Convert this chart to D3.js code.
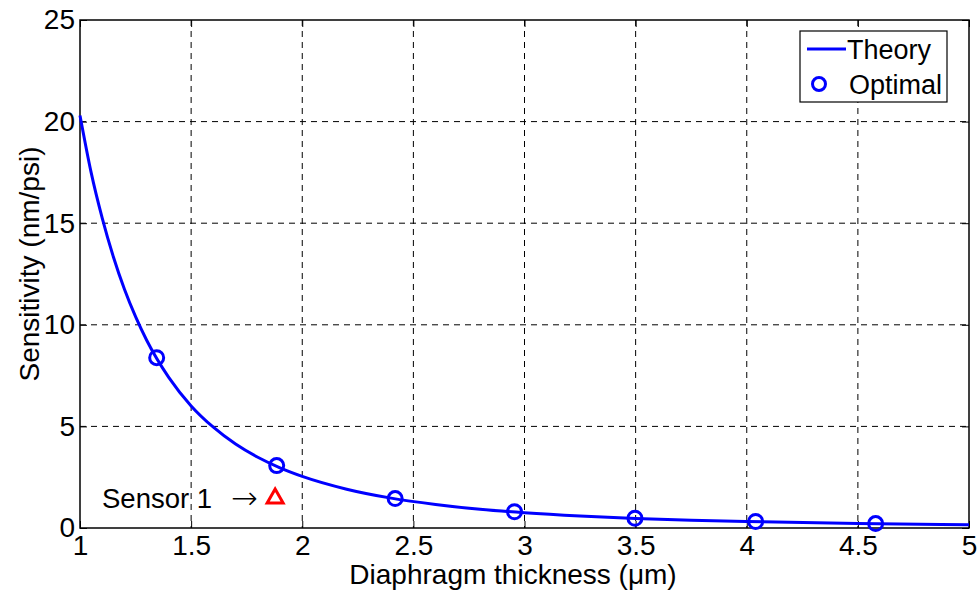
<!DOCTYPE html>
<html><head><meta charset="utf-8">
<script src="https://cdn.jsdelivr.net/npm/d3@7"></script>
<style>body{margin:0;background:#fff}svg{display:block}text{font-family:Arial,"Liberation Sans",sans-serif;fill:#000}</style>
</head><body><svg id="c" width="977" height="594"></svg>
<script>
const theoryX = [1,1.05,1.1,1.15,1.2,1.25,1.3,1.4,1.5,1.6,1.7,1.8,1.9,2.0,2.2,2.4,2.6,2.8,3.0,3.25,3.5,3.75,4.0,4.5,5.0];
const theoryY = [20.3,17.5,15.25,13.35,11.75,10.4,9.24,7.40,6.01,4.96,4.13,3.48,2.96,2.54,1.91,1.47,1.16,0.92,0.75,0.59,0.47,0.385,0.32,0.22,0.16];
const optX = [1.345,1.885,2.418,2.955,3.497,4.04,4.58];
const optY = [8.38,3.07,1.45,0.80,0.48,0.32,0.22];
const sensorX = [1.878];
const sensorY = [1.51];
const xTicks = [1,1.5,2,2.5,3,3.5,4,4.5,5];
const yTicks = [0,5,10,15,20,25];

const svg = d3.select("#c");
const L=80,R=969,T=20,B=528;
const x = d3.scaleLinear().domain([1,5]).range([L,R]);
const y = d3.scaleLinear().domain([0,25]).range([B,T]);

// grid
const g = svg.append("g");
g.selectAll(".vx").data(xTicks.slice(1,-1)).enter().append("line")
 .attr("x1",d=>x(d)).attr("x2",d=>x(d)).attr("y1",T).attr("y2",B)
 .attr("stroke","#000").attr("stroke-width",1).attr("stroke-dasharray","6,5");
g.selectAll(".hy").data(yTicks.slice(1,-1)).enter().append("line")
 .attr("y1",d=>y(d)).attr("y2",d=>y(d)).attr("x1",L).attr("x2",R)
 .attr("stroke","#000").attr("stroke-width",1).attr("stroke-dasharray","6,5");

// axes
const xa = svg.append("g").attr("transform",`translate(0,${B})`)
 .call(d3.axisBottom(x).tickValues(xTicks).tickSize(-7).tickPadding(7).tickFormat(d3.format("")));
const ya = svg.append("g").attr("transform",`translate(${L},0)`)
 .call(d3.axisLeft(y).tickValues(yTicks).tickSize(-7).tickPadding(5).tickFormat(d3.format("")));
[xa,ya].forEach(a=>{a.select(".domain").remove();a.selectAll("line").attr("stroke","#000");
 a.selectAll("text").style("font-size","28px").style("font-family","Arial,'Liberation Sans',sans-serif").attr("fill","#000");});
// right/top ticks
svg.append("g").attr("transform",`translate(${R},0)`).call(d3.axisRight(y).tickValues(yTicks).tickSize(-7).tickFormat(""))
 .call(a=>{a.select(".domain").remove();a.selectAll("line").attr("stroke","#000");});
svg.append("g").attr("transform",`translate(0,${T})`).call(d3.axisTop(x).tickValues(xTicks).tickSize(-7).tickFormat(""))
 .call(a=>{a.select(".domain").remove();a.selectAll("line").attr("stroke","#000");});
svg.append("rect").attr("x",L).attr("y",T).attr("width",R-L).attr("height",B-T)
 .attr("fill","none").attr("stroke","#000").attr("stroke-width",1.5);

// theory line
const pts = theoryX.map((d,i)=>[d,theoryY[i]]);
svg.append("path").datum(pts)
 .attr("d",d3.line().x(d=>x(d[0])).y(d=>y(d[1])).curve(d3.curveMonotoneX))
 .attr("fill","none").attr("stroke","#0000ff").attr("stroke-width",3);

// optimal points
svg.selectAll(".opt").data(optX.map((d,i)=>[d,optY[i]])).enter().append("circle")
 .attr("cx",d=>x(d[0])).attr("cy",d=>y(d[1])).attr("r",7)
 .attr("fill","none").attr("stroke","#0000ff").attr("stroke-width",3);

// sensor triangle
const tri = d3.symbol().type(d3.symbolTriangle).size(110);
svg.selectAll(".sen").data(sensorX.map((d,i)=>[d,sensorY[i]])).enter().append("path")
 .attr("d",tri).attr("transform",d=>`translate(${x(d[0])},${y(d[1])+1})`)
 .attr("fill","none").attr("stroke","#ff0000").attr("stroke-width",3);
svg.append("text").attr("x",102).attr("y",508).style("font-size","27.5px").text("Sensor 1");
svg.append("text").attr("x",231).attr("y",509).style("font-size","32px").style("font-weight","200")
 .style("font-family","'DejaVu Sans',sans-serif").text("\u2192");

// labels
svg.append("text").attr("x",513).attr("y",584).attr("text-anchor","middle").style("font-size","28px")
 .text("Diaphragm thickness (\u03bcm)");
svg.append("text").attr("transform",`translate(39,264) rotate(-90)`).attr("text-anchor","middle").style("font-size","28px")
 .text("Sensitivity (nm/psi)");

// legend
const lg = svg.append("g");
lg.append("rect").attr("x",800).attr("y",31).attr("width",147).attr("height",71)
 .attr("fill","#fff").attr("stroke","#000").attr("stroke-width",1.2);
lg.append("line").attr("x1",807).attr("x2",846).attr("y1",49).attr("y2",49).attr("stroke","#0000ff").attr("stroke-width",3);
lg.append("text").attr("x",847).attr("y",59).style("font-size","27px").text("Theory");
lg.append("circle").attr("cx",819).attr("cy",84).attr("r",6.5).attr("fill","none").attr("stroke","#0000ff").attr("stroke-width",3);
lg.append("text").attr("x",849).attr("y",94).style("font-size","27px").text("Optimal");
</script></body></html>
